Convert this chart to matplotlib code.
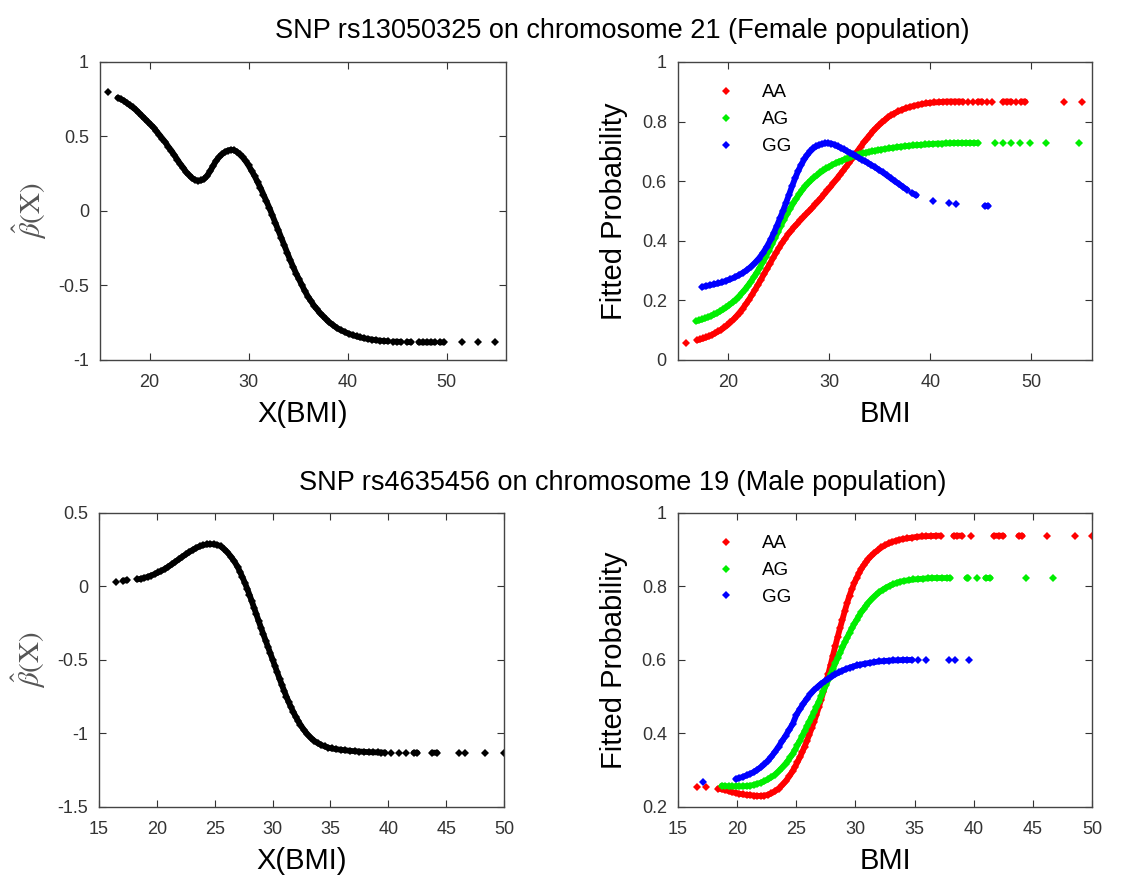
import matplotlib
matplotlib.use("Agg")
import matplotlib.pyplot as plt
import numpy as np

# ---- Female population, SNP rs13050325 (top row) ----
# beta-hat(X) vs BMI
tl_bmi = [15.8, 16.8, 17.1, 17.4, 17.7, 18.0, 18.3, 18.6, 18.9, 19.2, 19.5, 19.8, 20.1, 20.4, 20.7,
          21.0, 21.3, 21.6, 21.9, 22.2, 22.5, 22.8, 23.1, 23.4, 23.7, 24.0, 24.3, 24.6, 24.9, 25.2,
          25.5, 25.8, 26.1, 26.4, 26.7, 27.0, 27.3, 27.6, 27.9, 28.2, 28.5, 28.8, 29.1, 29.4, 29.7,
          30.0, 30.3, 30.6, 30.9, 31.2, 31.5, 31.8, 32.1, 32.4, 32.7, 33.0, 33.3, 33.6, 33.9, 34.2,
          34.5, 34.8, 35.1, 35.4, 35.7, 36.0, 36.3, 36.6, 36.9, 37.2, 37.5, 37.8, 38.1, 38.5, 38.9,
          39.3, 39.7, 40.1, 40.5, 40.9, 41.3, 41.7, 42.1, 42.5, 42.9, 43.3, 43.7, 44.1, 44.6, 45.0,
          45.4, 46.0, 46.4, 47.2, 47.6, 48.0, 48.4, 48.8, 49.3, 49.7, 51.5, 53.2, 54.9]
tl_beta = [0.80, 0.76, 0.75, 0.74, 0.725, 0.71, 0.695, 0.68, 0.66, 0.64, 0.62, 0.60, 0.58, 0.56, 0.535,
           0.51, 0.485, 0.46, 0.43, 0.405, 0.375, 0.345, 0.315, 0.29, 0.26, 0.24, 0.22, 0.208, 0.202, 0.205,
           0.215, 0.235, 0.265, 0.30, 0.335, 0.36, 0.38, 0.395, 0.405, 0.41, 0.408, 0.398, 0.38, 0.36, 0.335,
           0.305, 0.27, 0.235, 0.195, 0.155, 0.11, 0.065, 0.02, -0.03, -0.08, -0.13, -0.18, -0.23, -0.28, -0.33,
           -0.375, -0.42, -0.46, -0.50, -0.54, -0.575, -0.605, -0.635, -0.66, -0.685, -0.705, -0.725, -0.745, -0.765, -0.785,
           -0.80, -0.812, -0.824, -0.833, -0.842, -0.849, -0.855, -0.86, -0.864, -0.868, -0.871, -0.873, -0.875, -0.877, -0.878,
           -0.879, -0.88, -0.881, -0.882, -0.882, -0.882, -0.882, -0.882, -0.882, -0.882, -0.883, -0.883, -0.883]

# fitted probability per genotype
tr_aa_bmi = [15.8, 16.9, 17.2, 17.5, 17.8, 18.1, 18.4, 18.7, 19.0, 19.3, 19.6, 19.9, 20.2, 20.5, 20.8,
             21.1, 21.4, 21.7, 22.0, 22.3, 22.6, 22.9, 23.2, 23.5, 23.8, 24.1, 24.4, 24.7, 25.0, 25.3,
             25.6, 25.9, 26.2, 26.5, 26.8, 27.1, 27.4, 27.7, 28.0, 28.3, 28.6, 28.9, 29.2, 29.5, 29.8,
             30.1, 30.4, 30.7, 31.0, 31.3, 31.6, 31.9, 32.2, 32.5, 32.8, 33.1, 33.4, 33.7, 34.0, 34.3,
             34.6, 34.9, 35.2, 35.5, 35.8, 36.1, 36.4, 36.8, 37.2, 37.6, 38.0, 38.4, 38.8, 39.2, 39.6,
             40.0, 40.4, 40.8, 41.2, 41.6, 42.0, 42.4, 42.8, 43.2, 43.7, 44.2, 44.7, 45.1, 45.6, 46.1,
             47.2, 47.6, 48.0, 48.5, 49.0, 49.4, 53.2, 55.0]
tr_aa = [0.056, 0.066, 0.069, 0.072, 0.076, 0.08, 0.085, 0.09, 0.096, 0.102, 0.109, 0.117, 0.126, 0.136, 0.147,
         0.159, 0.172, 0.186, 0.201, 0.217, 0.234, 0.251, 0.269, 0.287, 0.305, 0.323, 0.341, 0.359, 0.376, 0.392,
         0.407, 0.421, 0.434, 0.446, 0.457, 0.468, 0.479, 0.49, 0.50, 0.511, 0.522, 0.533, 0.545, 0.557, 0.569,
         0.581, 0.594, 0.607, 0.62, 0.633, 0.646, 0.66, 0.674, 0.688, 0.702, 0.716, 0.73, 0.743, 0.755, 0.767,
         0.778, 0.788, 0.797, 0.806, 0.814, 0.821, 0.827, 0.834, 0.84, 0.845, 0.849, 0.853, 0.856, 0.859, 0.861,
         0.863, 0.864, 0.865, 0.866, 0.867, 0.867, 0.867, 0.867, 0.867, 0.867, 0.867, 0.867, 0.867, 0.867, 0.867,
         0.867, 0.867, 0.867, 0.867, 0.867, 0.867, 0.867, 0.867]

tr_ag_bmi = [16.8, 17.1, 17.4, 17.7, 18.0, 18.3, 18.6, 18.9, 19.2, 19.5, 19.8, 20.1, 20.4, 20.7, 21.0,
             21.3, 21.6, 21.9, 22.2, 22.5, 22.8, 23.1, 23.4, 23.7, 24.0, 24.3, 24.6, 24.9, 25.2, 25.5,
             25.8, 26.1, 26.4, 26.7, 27.0, 27.3, 27.6, 27.9, 28.2, 28.5, 28.8, 29.1, 29.4, 29.7, 30.0,
             30.3, 30.6, 30.9, 31.2, 31.5, 31.8, 32.1, 32.4, 32.7, 33.0, 33.3, 33.6, 33.9, 34.2, 34.5,
             34.8, 35.1, 35.5, 35.9, 36.3, 36.7, 37.1, 37.5, 37.9, 38.3, 38.7, 39.1, 39.5, 39.9, 40.3,
             40.7, 41.1, 41.5, 41.9, 42.3, 42.7, 43.1, 43.5, 43.9, 44.3, 44.7, 46.4, 47.2, 48.0, 48.9,
             49.9, 51.4, 54.7]
tr_ag = [0.13, 0.133, 0.136, 0.14, 0.144, 0.148, 0.153, 0.158, 0.164, 0.17, 0.177, 0.185, 0.193, 0.202, 0.212,
         0.223, 0.235, 0.248, 0.262, 0.277, 0.293, 0.31, 0.328, 0.347, 0.367, 0.388, 0.409, 0.43, 0.451, 0.471,
         0.49, 0.508, 0.525, 0.541, 0.556, 0.57, 0.583, 0.594, 0.604, 0.613, 0.621, 0.629, 0.636, 0.643, 0.649,
         0.655, 0.66, 0.665, 0.669, 0.673, 0.677, 0.681, 0.685, 0.688, 0.691, 0.693, 0.696, 0.698, 0.70, 0.702,
         0.704, 0.706, 0.708, 0.71, 0.712, 0.714, 0.716, 0.717, 0.719, 0.72, 0.721, 0.722, 0.723, 0.724, 0.725,
         0.726, 0.726, 0.727, 0.727, 0.728, 0.728, 0.728, 0.728, 0.728, 0.728, 0.728, 0.728, 0.728, 0.728, 0.728,
         0.728, 0.728, 0.728]

tr_gg_bmi = [17.4, 17.8, 18.2, 18.6, 19.0, 19.4, 19.8, 20.2, 20.6, 21.0, 21.4, 21.8, 22.2, 22.6, 23.0,
             23.4, 23.8, 24.2, 24.5, 24.8, 25.1, 25.4, 25.7, 26.0, 26.3, 26.6, 26.9, 27.2, 27.5, 27.8,
             28.1, 28.4, 28.7, 29.0, 29.3, 29.6, 29.9, 30.2, 30.5, 30.8, 31.1, 31.4, 31.7, 32.0, 32.3,
             32.6, 32.9, 33.2, 33.5, 33.8, 34.1, 34.5, 34.9, 35.3, 35.7, 36.1, 36.5, 36.9, 37.3, 37.7,
             38.2, 38.6, 40.3, 41.8, 42.5, 45.4, 45.7]
tr_gg = [0.245, 0.248, 0.251, 0.254, 0.257, 0.261, 0.266, 0.271, 0.277, 0.284, 0.292, 0.301, 0.312, 0.325, 0.34,
         0.358, 0.38, 0.405, 0.427, 0.45, 0.475, 0.50, 0.527, 0.555, 0.583, 0.61, 0.634, 0.655, 0.673, 0.688,
         0.70, 0.71, 0.717, 0.722, 0.725, 0.727, 0.727, 0.726, 0.722, 0.717, 0.712, 0.707, 0.701, 0.696, 0.69,
         0.684, 0.678, 0.672, 0.667, 0.661, 0.655, 0.647, 0.638, 0.629, 0.619, 0.609, 0.599, 0.59, 0.58, 0.571,
         0.56, 0.552, 0.535, 0.527, 0.523, 0.517, 0.517]

# ---- Male population, SNP rs4635456 (bottom row) ----
bl_bmi = [16.5, 17.1, 17.4, 18.3, 18.6, 18.9, 19.2, 19.5, 19.8, 20.1, 20.4, 20.7, 21.0, 21.3, 21.6,
          21.9, 22.2, 22.5, 22.8, 23.1, 23.4, 23.7, 24.0, 24.3, 24.6, 24.9, 25.2, 25.5, 25.8, 26.1,
          26.4, 26.7, 27.0, 27.2, 27.4, 27.6, 27.8, 28.0, 28.2, 28.4, 28.6, 28.8, 29.0, 29.2, 29.4,
          29.6, 29.8, 30.0, 30.2, 30.4, 30.6, 30.8, 31.0, 31.2, 31.4, 31.6, 31.8, 32.0, 32.2, 32.4,
          32.7, 33.0, 33.3, 33.6, 33.9, 34.2, 34.5, 34.8, 35.1, 35.5, 35.9, 36.3, 36.7, 37.1, 37.5,
          37.9, 38.3, 38.7, 39.1, 39.4, 39.7, 40.2, 40.9, 41.5, 42.2, 42.5, 43.8, 44.2, 46.1, 46.6,
          48.4, 50.0]
bl_beta = [0.03, 0.04, 0.042, 0.048, 0.052, 0.058, 0.065, 0.074, 0.084, 0.095, 0.107, 0.12, 0.135, 0.151, 0.168,
           0.185, 0.202, 0.218, 0.234, 0.249, 0.262, 0.273, 0.281, 0.286, 0.288, 0.287, 0.283, 0.274, 0.255, 0.232,
           0.203, 0.17, 0.13, 0.097, 0.062, 0.025, -0.014, -0.056, -0.10, -0.145, -0.19, -0.236, -0.281, -0.325, -0.368,
           -0.411, -0.454, -0.497, -0.54, -0.584, -0.627, -0.669, -0.71, -0.75, -0.788, -0.822, -0.855, -0.886, -0.914, -0.94,
           -0.975, -1.005, -1.03, -1.05, -1.066, -1.078, -1.088, -1.096, -1.102, -1.107, -1.111, -1.115, -1.118, -1.121, -1.123,
           -1.125, -1.127, -1.128, -1.129, -1.13, -1.13, -1.131, -1.131, -1.131, -1.131, -1.131, -1.131, -1.131, -1.131, -1.131,
           -1.131, -1.131]

br_aa_bmi = [16.6, 17.4, 18.4, 18.7, 19.0, 19.3, 19.6, 19.9, 20.2, 20.5, 20.8, 21.1, 21.4, 21.7, 22.0,
             22.3, 22.6, 22.9, 23.2, 23.5, 23.8, 24.1, 24.4, 24.7, 24.9, 25.1, 25.3, 25.5, 25.7, 25.9,
             26.1, 26.3, 26.5, 26.7, 26.9, 27.1, 27.3, 27.5, 27.7, 27.9, 28.1, 28.3, 28.5, 28.7, 28.9,
             29.1, 29.3, 29.5, 29.7, 29.9, 30.1, 30.3, 30.5, 30.7, 30.9, 31.1, 31.3, 31.6, 31.9, 32.2,
             32.5, 32.8, 33.1, 33.4, 33.7, 34.0, 34.4, 34.8, 35.2, 35.6, 36.0, 36.4, 36.8, 37.2, 38.3,
             38.6, 39.0, 39.8, 41.7, 42.1, 42.5, 43.8, 44.1, 46.2, 48.6, 50.0]
br_aa = [0.255, 0.254, 0.25, 0.248, 0.246, 0.243, 0.24, 0.238, 0.236, 0.234, 0.233, 0.232, 0.231, 0.23, 0.23,
         0.231, 0.233, 0.237, 0.243, 0.25, 0.259, 0.27, 0.283, 0.298, 0.31, 0.322, 0.335, 0.349, 0.364, 0.38,
         0.397, 0.414, 0.432, 0.451, 0.471, 0.492, 0.514, 0.537, 0.561, 0.586, 0.612, 0.638, 0.663, 0.687, 0.71,
         0.733, 0.755, 0.775, 0.793, 0.809, 0.823, 0.836, 0.848, 0.858, 0.867, 0.875, 0.882, 0.891, 0.899, 0.906,
         0.912, 0.917, 0.921, 0.924, 0.927, 0.929, 0.931, 0.933, 0.935, 0.936, 0.937, 0.937, 0.938, 0.938, 0.938,
         0.938, 0.938, 0.938, 0.938, 0.938, 0.938, 0.938, 0.938, 0.938, 0.938, 0.938]

br_ag_bmi = [18.7, 19.0, 19.3, 19.6, 19.9, 20.2, 20.5, 20.8, 21.1, 21.4, 21.7, 22.0, 22.3, 22.6, 22.9,
             23.2, 23.5, 23.8, 24.1, 24.3, 24.5, 24.7, 24.9, 25.1, 25.3, 25.5, 25.7, 25.9, 26.1, 26.3,
             26.5, 26.7, 26.9, 27.1, 27.3, 27.5, 27.7, 27.9, 28.1, 28.3, 28.5, 28.7, 28.9, 29.1, 29.3,
             29.5, 29.7, 29.9, 30.1, 30.3, 30.5, 30.7, 30.9, 31.1, 31.4, 31.7, 32.0, 32.3, 32.6, 32.9,
             33.2, 33.5, 33.8, 34.1, 34.5, 34.9, 35.3, 35.7, 36.1, 36.5, 36.9, 37.3, 37.7, 38.0, 39.4,
             39.5, 40.3, 41.0, 41.4, 44.4, 46.7]
br_ag = [0.258, 0.257, 0.256, 0.256, 0.256, 0.256, 0.256, 0.257, 0.258, 0.26, 0.263, 0.266, 0.27, 0.275, 0.281,
         0.288, 0.297, 0.307, 0.318, 0.326, 0.335, 0.345, 0.356, 0.368, 0.38, 0.393, 0.406, 0.419, 0.432, 0.445,
         0.458, 0.472, 0.486, 0.501, 0.516, 0.531, 0.546, 0.561, 0.576, 0.591, 0.606, 0.62, 0.634, 0.648, 0.661,
         0.674, 0.686, 0.698, 0.709, 0.72, 0.73, 0.739, 0.748, 0.756, 0.767, 0.776, 0.784, 0.791, 0.797, 0.802,
         0.806, 0.81, 0.813, 0.815, 0.817, 0.819, 0.82, 0.821, 0.822, 0.823, 0.823, 0.823, 0.823, 0.823, 0.823,
         0.823, 0.823, 0.823, 0.823, 0.823, 0.823]

br_gg_bmi = [17.1, 19.9, 20.2, 20.5, 20.8, 21.1, 21.4, 21.7, 22.0, 22.3, 22.6, 22.9, 23.2, 23.5, 23.8,
             24.1, 24.4, 24.7, 25.0, 25.3, 25.6, 25.9, 26.2, 26.5, 26.8, 27.1, 27.4, 27.7, 28.0, 28.3,
             28.6, 28.9, 29.2, 29.5, 29.8, 30.1, 30.4, 30.8, 31.2, 31.6, 32.0, 32.4, 32.8, 33.2, 33.6,
             34.0, 34.4, 34.8, 35.3, 36.0, 37.9, 38.4, 39.6]
br_gg = [0.267, 0.276, 0.279, 0.282, 0.286, 0.29, 0.295, 0.301, 0.308, 0.316, 0.326, 0.337, 0.35, 0.364, 0.379,
         0.394, 0.41, 0.426, 0.45, 0.466, 0.481, 0.495, 0.507, 0.518, 0.527, 0.535, 0.542, 0.549, 0.555, 0.561,
         0.566, 0.571, 0.575, 0.579, 0.582, 0.585, 0.587, 0.59, 0.592, 0.594, 0.596, 0.597, 0.598, 0.599, 0.599,
         0.60, 0.60, 0.60, 0.60, 0.60, 0.60, 0.60, 0.60]

titles = ["SNP rs13050325 on chromosome 21 (Female population)",
          "SNP rs4635456 on chromosome 19 (Male population)"]
genotypes = ["AA", "AG", "GG"]
geno_colors = ["#ff0000", "#00ee00", "#0000ff"]

plt.rcParams["font.family"] = ["Liberation Sans", "DejaVu Sans"]
plt.rcParams["mathtext.fontset"] = "stix"

fig = plt.figure(figsize=(11.46, 8.8), dpi=100)
ax_tl = fig.add_axes([0.0873, 0.591, 0.3543, 0.3386])
ax_tr = fig.add_axes([0.5916, 0.591, 0.3613, 0.3386])
ax_bl = fig.add_axes([0.0864, 0.083, 0.3534, 0.3341])
ax_br = fig.add_axes([0.5916, 0.083, 0.3613, 0.3341])

mk = dict(linestyle="none", marker="D", markersize=4.5, markeredgewidth=0)


def dense_points(ax, x, y, color, label=None):
    # the observations are so dense in the middle that they merge into a thick band;
    # a thick stroke through neighbouring points (gaps < 0.5 BMI) reproduces that band
    x = np.asarray(x, float)
    y = np.asarray(y, float)
    band_y = y.copy()
    for i in range(len(x)):
        near = (i > 0 and x[i] - x[i - 1] < 0.5) or (i < len(x) - 1 and x[i + 1] - x[i] < 0.5)
        if not near:
            band_y[i] = np.nan
    brk = np.where(np.diff(x) >= 0.5)[0]
    bx = np.insert(x, brk + 1, np.nan)
    by = np.insert(band_y, brk + 1, np.nan)
    ax.plot(bx, by, color=color, linewidth=4.2, solid_capstyle="round")
    ax.plot(x, y, color=color, label=label, **mk)


def style(ax, xlim, ylim, xticks, yticks):
    ax.set_xlim(*xlim)
    ax.set_ylim(*ylim)
    ax.set_xticks(xticks)
    ax.set_xticklabels(["%g" % t for t in xticks])
    ax.set_yticks(yticks)
    ax.set_yticklabels(["%g" % t for t in yticks])
    ax.tick_params(direction="in", top=True, right=True, length=5, width=0.8,
                   labelsize=13, colors="#333333")
    ax.tick_params(axis="x", pad=10)
    ax.tick_params(axis="y", pad=8)
    for s in ax.spines.values():
        s.set_color("#444444")
        s.set_linewidth(1.0)


# beta panels
dense_points(ax_tl, tl_bmi, tl_beta, "black")
style(ax_tl, (15, 56), (-1, 1), [20, 30, 40, 50], [-1, -0.5, 0, 0.5, 1])
dense_points(ax_bl, bl_bmi, bl_beta, "black")
style(ax_bl, (15, 50), (-1.5, 0.5), [15, 20, 25, 30, 35, 40, 45, 50], [-1.5, -1, -0.5, 0, 0.5])

for ax in (ax_tl, ax_bl):
    ax.set_xlabel("X(BMI)", fontsize=21)
    ax.set_ylabel(r"$\hat{\beta}(\mathrm{X})$", fontsize=21, color="#555555")
    ax.yaxis.set_label_coords(-0.125, 0.5)
    ax.xaxis.set_label_coords(0.5, -0.135)

# probability panels
for (x, y), lab, c in zip([(tr_aa_bmi, tr_aa), (tr_ag_bmi, tr_ag), (tr_gg_bmi, tr_gg)], genotypes, geno_colors):
    dense_points(ax_tr, x, y, c, lab)
style(ax_tr, (15, 56), (0, 1), [20, 30, 40, 50], [0, 0.2, 0.4, 0.6, 0.8, 1])

for (x, y), lab, c in zip([(br_aa_bmi, br_aa), (br_ag_bmi, br_ag), (br_gg_bmi, br_gg)], genotypes, geno_colors):
    dense_points(ax_br, x, y, c, lab)
style(ax_br, (15, 50), (0.2, 1), [15, 20, 25, 30, 35, 40, 45, 50], [0.2, 0.4, 0.6, 0.8, 1])

for ax in (ax_tr, ax_br):
    ax.set_xlabel("BMI", fontsize=21)
    ax.set_ylabel("Fitted Probability", fontsize=21)
    ax.yaxis.set_label_coords(-0.12, 0.5)
    ax.xaxis.set_label_coords(0.5, -0.135)
    ax.legend(loc="upper left", bbox_to_anchor=(0.08, 0.95), frameon=False, fontsize=13.5,
              handlelength=0.8, handletextpad=1.5, labelspacing=0.52, borderaxespad=0)

fig.text(0.543, 1 - 31 / 880, titles[0], ha="center", va="center", fontsize=19.5)
fig.text(0.543, 1 - 483 / 880, titles[1], ha="center", va="center", fontsize=19.5)

fig.savefig("out.png", dpi=100)
